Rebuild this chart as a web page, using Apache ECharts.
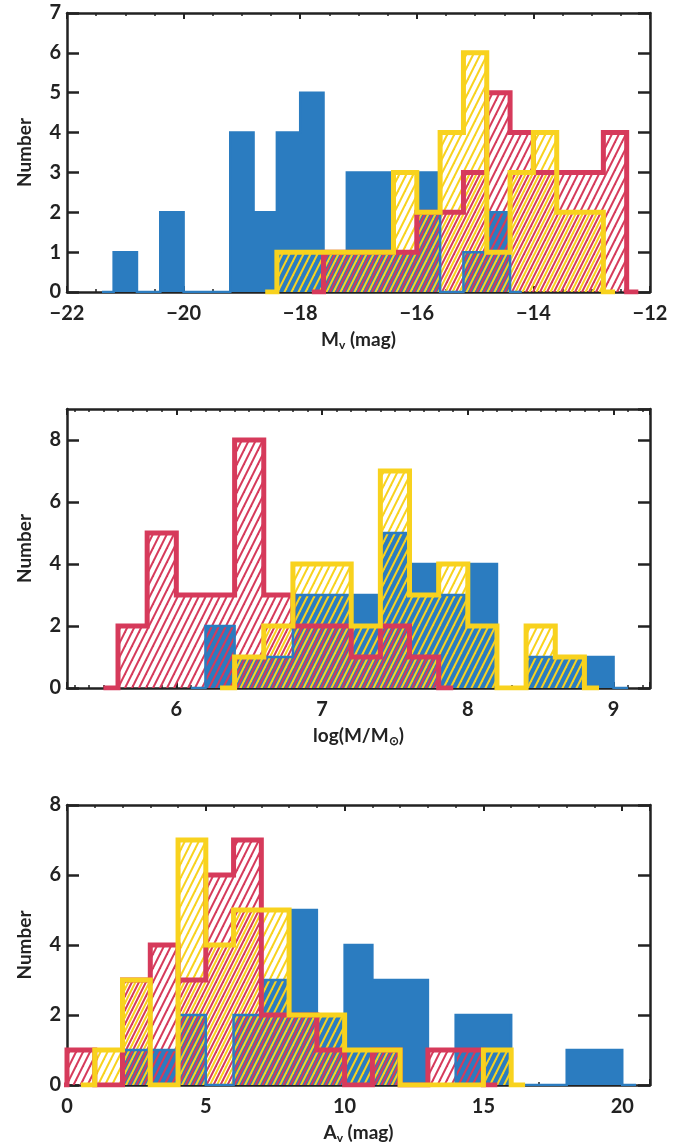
<!DOCTYPE html>
<html><head><meta charset="utf-8">
<script src="https://cdn.jsdelivr.net/npm/echarts@6/dist/echarts.min.js"></script>
<style>html,body{margin:0;padding:0;background:#fff}#c{width:677px;height:1145px}</style>
</head><body><div id="c"></div>
<script>
// ---------- DATA (bin centre of first listed bin, bin width, counts) ----------
// Panel 1: M_v (mag), bin width 0.4
const mvBinWidth = 0.4;
const mvBlueFirst = -21.4;
const mvBlueCounts = [0,1,0,2,0,0,4,2,4,5,1,3,3,1,3,0,1,2,0];
const mvRedFirst = -17.8;
const mvRedCounts = [0,1,1,1,1,2,2,3,5,4,3,3,3,4,0];
const mvYellowFirst = -18.6;
const mvYellowCounts = [0,1,1,1,1,1,3,2,4,6,1,3,4,2,2,0];

// Panel 2: log(M/Msun), bin width 0.2
const lmBinWidth = 0.2;
const lmBlueFirst = 6.1;
const lmBlueCounts = [0,2,1,1,3,3,3,5,4,3,4,0,1,1,1,0];
const lmRedFirst = 5.5;
const lmRedCounts = [0,2,5,3,3,8,3,2,2,1,2,1,0];
const lmYellowFirst = 6.3;
const lmYellowCounts = [0,1,2,4,4,2,7,3,4,2,0,2,1,0];

// Panel 3: A_v (mag), bin width 1
const avBinWidth = 1;
const avBlueFirst = 1.5;
const avBlueCounts = [0,1,1,2,0,2,3,5,2,4,3,3,0,2,2,0,0,1,1,0];
const avRedFirst = -0.5;
const avRedCounts = [0,1,0,3,4,3,6,7,2,2,1,0,1,0,1,1,0];
const avYellowFirst = 0.5;
const avYellowCounts = [0,1,3,0,7,4,5,5,2,2,1,1,0,0,0,1,0];

// Axis ranges / ticks
const mvRange = [-22, -12], mvInterval = 2;
const lmRange = [5.25, 9.25];
const avRange = [0, 21], avInterval = 5;
const yMax = [7, 9, 8], yInterval = [1, 2, 2];
const xNames = ['M{s|v} (mag)', 'log(M/M{s|⊙})', 'A{s|v} (mag)'];
const yName = 'Number';

// ---------- STYLE ----------
const BLUE = '#2b7cc0', RED = '#d63a5b', YELLOW = '#f8d21e', INK = '#222';
const FONT = 'Lato';

function hatch(color, offset) {
  const c = document.createElement('canvas');
  c.width = 7; c.height = 14;
  const g = c.getContext('2d');
  g.strokeStyle = color; g.lineWidth = 2.0;
  for (let k = -2; k <= 2; k++) {
    const x0 = offset + 7 * k;
    g.beginPath();
    g.moveTo(x0 - 7, 28);
    g.lineTo(x0 + 14, -14);
    g.stroke();
  }
  return { image: c, repeat: 'repeat' };
}
const redHatch = hatch(RED, 0);
const yellowHatch = hatch(YELLOW, 3.5);

function bins(first, width, counts) {
  return counts.map((c, i) => [+(first + i * width).toFixed(4), c]);
}
function histSeries(idx, first, width, counts, color, fill, lw) {
  return {
    type: 'line', step: 'middle', symbol: 'none', silent: true,
    xAxisIndex: idx * 2, yAxisIndex: idx * 2,
    data: bins(first, width, counts),
    lineStyle: { color: color, width: lw, join: 'miter', cap: 'butt' },
    areaStyle: { color: fill, opacity: 1, origin: 'start' },
    animation: false
  };
}

const grids = [
  { left: 67, right: 27, top: 13, height: 279 },
  { left: 67, right: 27, top: 409, height: 279 },
  { left: 67, right: 27, top: 805, height: 280 }
];

const tickLabel = { color: INK, fontFamily: FONT, fontWeight: 'bold', fontSize: 20 };
const fmt = v => (v < 0 ? '\u2212' + Math.abs(v) : String(v));

const xAxes = [], yAxes = [];
const xCfg = [
  { min: mvRange[0], max: mvRange[1], interval: mvInterval, minor: 4 },
  { min: lmRange[0], max: lmRange[1], splitNumber: 4, minor: 10 },
  { min: avRange[0], max: avRange[1], interval: avInterval, minor: 5 }
];
for (let i = 0; i < 3; i++) {
  const c = xCfg[i];
  const base = {
    type: 'value', gridIndex: i, min: c.min, max: c.max,
    splitLine: { show: false },
    axisLine: { show: true, onZero: false, lineStyle: { color: INK, width: 2.5 } },
    axisTick: { show: true, inside: true, length: 6, lineStyle: { color: INK, width: 2 } },
    minorTick: { show: true, splitNumber: c.minor, length: 3, lineStyle: { color: INK, width: 1.5 } }
  };
  if (c.interval) base.interval = c.interval; else base.splitNumber = c.splitNumber;
  xAxes.push(Object.assign({}, base, {
    position: 'bottom',
    axisLabel: Object.assign({ margin: 12, formatter: fmt, showMinLabel: i !== 1, showMaxLabel: i === 0 }, tickLabel),
    name: xNames[i], nameLocation: 'middle', nameGap: 37,
    nameTextStyle: { color: INK, fontFamily: FONT, fontWeight: 'bold', fontSize: 19,
      rich: { s: { color: INK, fontFamily: FONT, fontWeight: 'bold', fontSize: 12, padding: [10, 0, 0, 0] } } }
  }));
  xAxes.push(Object.assign({}, base, { position: 'top', axisLabel: { show: false } }));

  const ybase = {
    type: 'value', gridIndex: i, min: 0, max: yMax[i], interval: yInterval[i],
    splitLine: { show: false },
    axisLine: { show: true, onZero: false, lineStyle: { color: INK, width: 2.5 } },
    axisTick: { show: true, inside: true, length: 12, lineStyle: { color: INK, width: 2.5 } }
  };
  yAxes.push(Object.assign({}, ybase, {
    position: 'left',
    axisLabel: Object.assign({ margin: 6, showMaxLabel: i !== 1 }, tickLabel),
    name: yName, nameLocation: 'middle', nameGap: 33, nameRotate: 90,
    nameTextStyle: { color: INK, fontFamily: FONT, fontWeight: 'bold', fontSize: 19 }
  }));
  yAxes.push(Object.assign({}, ybase, { position: 'right', axisLabel: { show: false } }));
}

const series = [
  histSeries(0, mvBlueFirst, mvBinWidth, mvBlueCounts, BLUE, BLUE, 2.5),
  histSeries(0, mvRedFirst, mvBinWidth, mvRedCounts, RED, redHatch, 5),
  histSeries(0, mvYellowFirst, mvBinWidth, mvYellowCounts, YELLOW, yellowHatch, 5),
  histSeries(1, lmBlueFirst, lmBinWidth, lmBlueCounts, BLUE, BLUE, 2.5),
  histSeries(1, lmRedFirst, lmBinWidth, lmRedCounts, RED, redHatch, 5),
  histSeries(1, lmYellowFirst, lmBinWidth, lmYellowCounts, YELLOW, yellowHatch, 5),
  histSeries(2, avBlueFirst, avBinWidth, avBlueCounts, BLUE, BLUE, 2.5),
  histSeries(2, avRedFirst, avBinWidth, avRedCounts, RED, redHatch, 5),
  histSeries(2, avYellowFirst, avBinWidth, avYellowCounts, YELLOW, yellowHatch, 5)
];

const chart = echarts.init(document.getElementById('c'), null, { renderer: 'canvas' });
chart.setOption({
  animation: false,
  backgroundColor: '#fff',
  grid: grids,
  xAxis: xAxes,
  yAxis: yAxes,
  series: series
});
</script></body></html>
